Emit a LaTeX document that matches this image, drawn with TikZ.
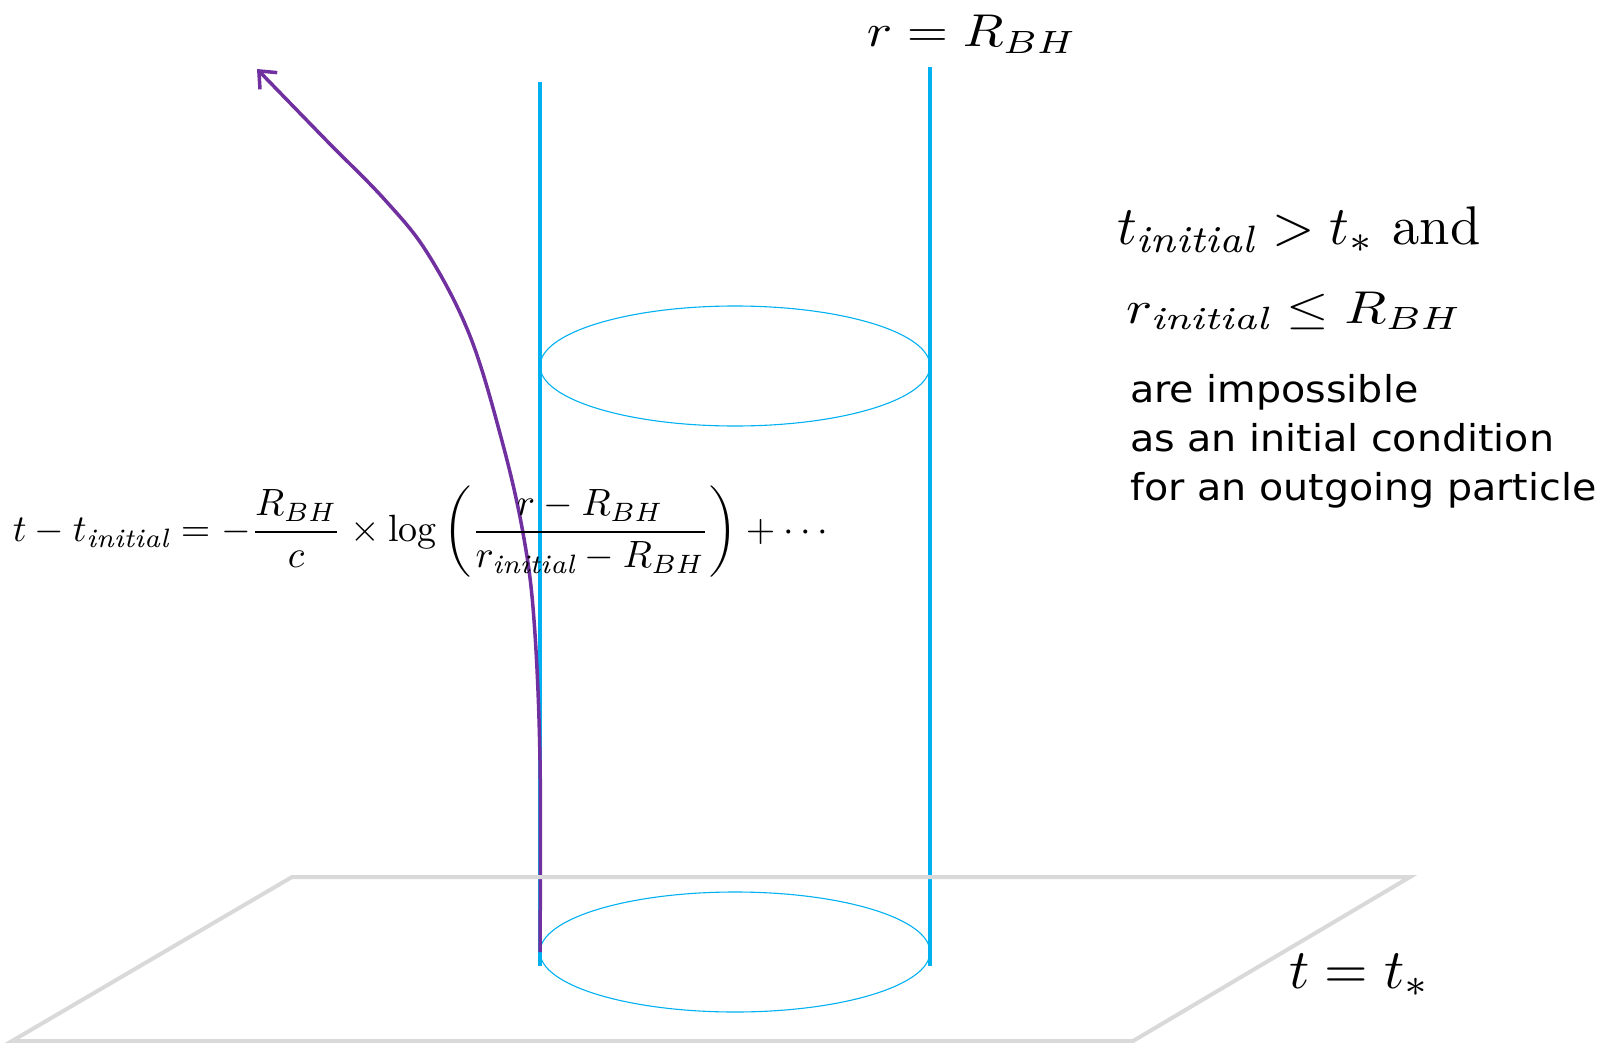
\documentclass[tikz,border=0pt]{standalone}
\usepackage{fontspec}
\setsansfont{DejaVu Sans}
\usetikzlibrary{arrows.meta}
\definecolor{bhblue}{HTML}{00B0F0}
\definecolor{bhpurple}{HTML}{7030A0}
\definecolor{sheet}{HTML}{D9D9D9}
\newcommand{\ini}{\mathit{initial}}

\begin{document}
\begin{tikzpicture}[x=1pt,y=-1pt,
  wall/.style={bhblue,line width=4pt},
  rim/.style={bhblue,line width=1.1pt},
  mathlab/.style={inner sep=0pt},
  note/.style={inner sep=0pt,anchor=base west,xscale=1.07,font=\sffamily\fontsize{37}{40}\selectfont}]
\useasboundingbox (0,0) rectangle (1608,1043);
% horizon cylinder
\draw[wall] (540,82)--(540,966) (930,67)--(930,966);
\draw[rim] (735,366) ellipse (195 and 60) (735,952) ellipse (195 and 60);
% outgoing particle
\draw[bhpurple,line width=3.5pt,-{Straight Barb[length=14pt,width=24pt]}]
  plot[smooth,tension=.6] coordinates {(540,952) (540,760) (534,620) (523,533) (502,441) (470,336) (428,254) (385,200) (326,140) (257,69)};
% slice t = t_*
\draw[sheet,line width=4pt] (292,877)--(1410,877)--(1133,1041)--(12,1041)--cycle;
\node[mathlab,xscale=5.3,yscale=4.6] (horizon) at (972,34) {$r=R_{BH}$};
\node[mathlab,anchor=west,scale=3.8] (eq) at (12,532) {$\displaystyle t-t_{\ini}=-\frac{R_{BH}}{c}\times\log\left(\frac{r-R_{BH}}{r_{\ini}-R_{BH}}\right)+\cdots$};
\node[mathlab,anchor=base west,scale=5.45] (cond1) at (1116,244) {$t_{\ini}>t_*$ and};
\node[mathlab,anchor=base west,xscale=5.47,yscale=4.6] (cond2) at (1125,323) {$r_{\ini}\le R_{BH}$};
\node[note] (l1) at (1130,402) {are impossible};
\node[note] (l2) at (1130,451) {as an initial condition};
\node[note] (l3) at (1130,500) {for an outgoing particle};
\node[mathlab,anchor=base west,scale=5.6] (slice) at (1288,988) {$t=t_*$};
\end{tikzpicture}
\end{document}
